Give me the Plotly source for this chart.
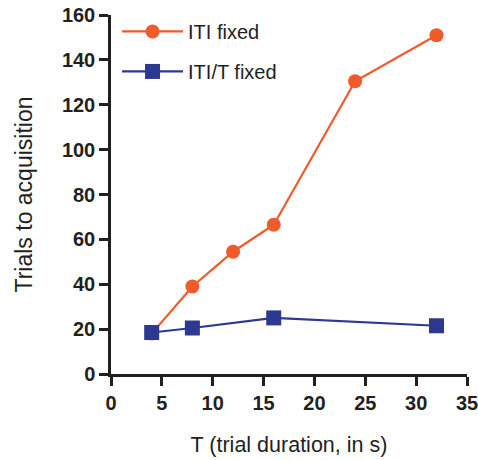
import plotly.graph_objects as go

t_iti = [4, 8, 12, 16, 24, 32]
trials_iti = [18, 39, 54.5, 66.5, 130.5, 151]
t_ratio = [4, 8, 16, 32]
trials_ratio = [18.5, 20.5, 25, 21.5]
x_ticks = [0, 5, 10, 15, 20, 25, 30, 35]
y_ticks = [0, 20, 40, 60, 80, 100, 120, 140, 160]

orange = "#f15a2b"
blue = "#2b3990"
ink = "#231f20"
fam = "Liberation Sans, Arial, sans-serif"

fig = go.Figure()
fig.add_trace(go.Scatter(x=t_iti, y=trials_iti, mode="lines+markers", name="ITI fixed",
                         legendgroup="a",
                         line=dict(color=orange, width=2.2),
                         marker=dict(symbol="circle", size=14, color=orange)))
fig.add_trace(go.Scatter(x=t_ratio, y=trials_ratio, mode="lines+markers", name="ITI/T fixed",
                         legendgroup="b",
                         line=dict(color=blue, width=2.2),
                         marker=dict(symbol="square", size=15, color=blue)))

fig.update_layout(
    width=478, height=460,
    margin=dict(l=111, r=11, t=15, b=86, autoexpand=False),
    plot_bgcolor="white", paper_bgcolor="white",
    font=dict(family=fam, color=ink),
    legend=dict(x=0.017, y=1.0085, xanchor="left", yanchor="top",
                font=dict(size=20, color=ink), traceorder="grouped",
                tracegroupgap=11, itemwidth=61, bgcolor="rgba(0,0,0,0)"),
    xaxis=dict(range=[0, 35], tickvals=x_ticks, showgrid=False, zeroline=False,
               showline=True, linecolor=ink, linewidth=2.5, automargin=False,
               ticks="outside", ticklen=9, tickwidth=2.5, tickcolor=ink,
               ticklabeloverflow="allow",
               tickfont=dict(size=20, family=fam, weight="bold"),
               title=dict(text="T (trial duration, in s)", font=dict(size=21.5), standoff=25)),
    yaxis=dict(range=[0, 160], tickvals=y_ticks, showgrid=False, zeroline=False,
               showline=True, linecolor=ink, linewidth=2.5, automargin=False,
               ticks="outside", ticklen=9, tickwidth=2.5, tickcolor=ink,
               ticklabeloverflow="allow",
               tickfont=dict(size=20, family=fam, weight="bold"),
               title=dict(text="Trials to acquisition", font=dict(size=23), standoff=23)),
)
fig.write_html("out.html", config={"displayModeBar": False},
               post_script="document.body.style.margin='0';document.body.style.overflow='hidden';")
